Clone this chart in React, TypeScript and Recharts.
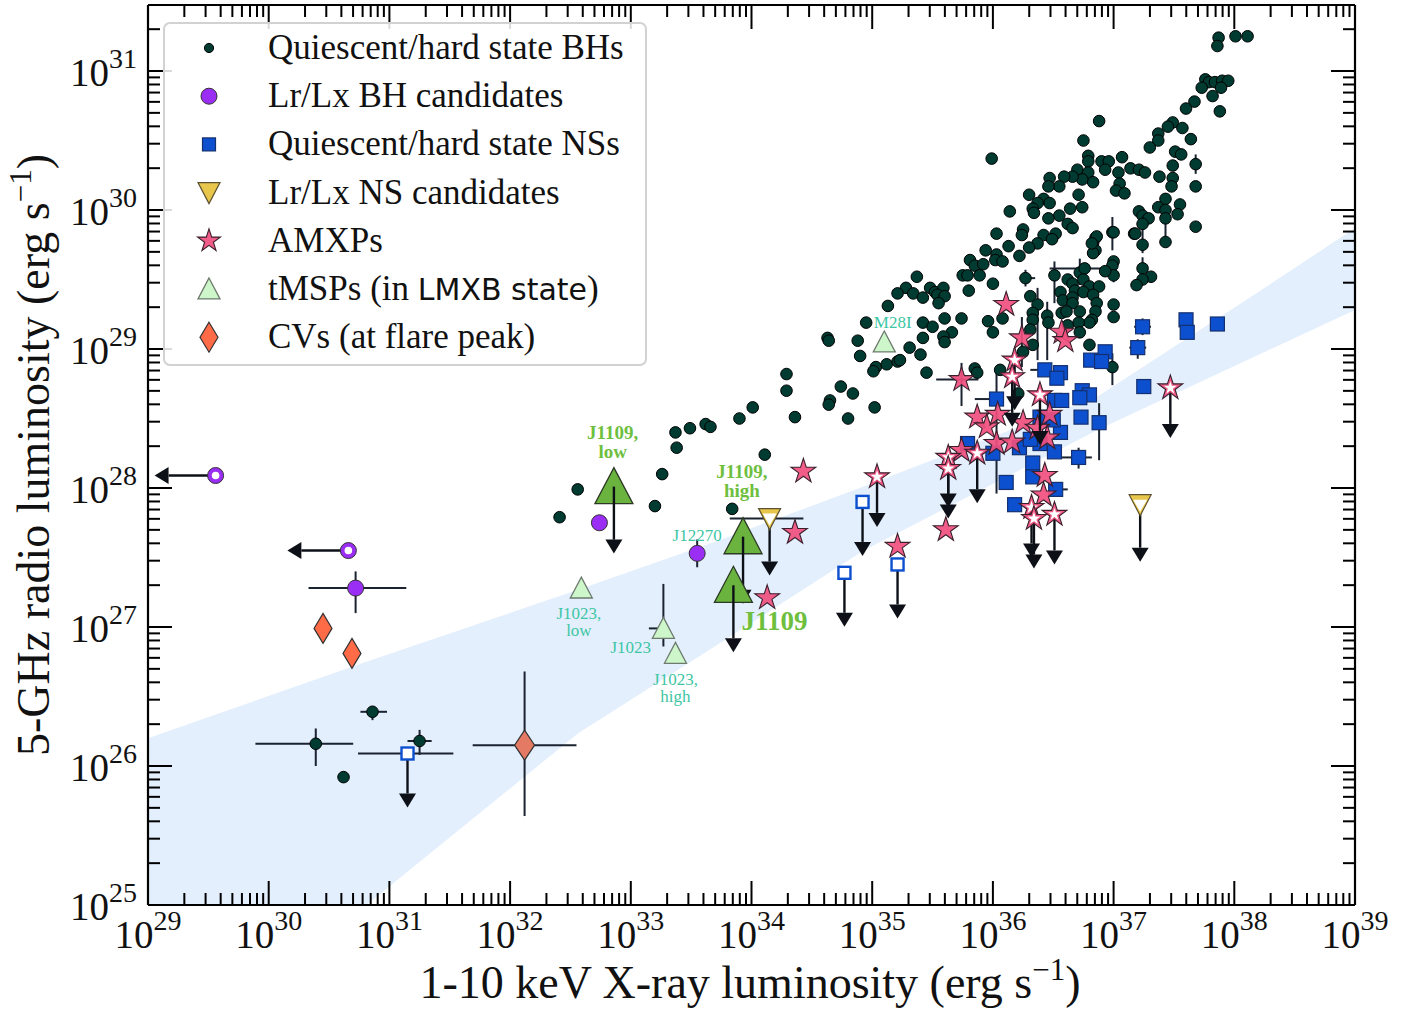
import React from "react";
import { ComposedChart, Area, Scatter, XAxis, YAxis, ErrorBar, Legend } from "recharts";

const SERIF = "'Liberation Serif', 'Times New Roman', serif";
const SANS = "'DejaVu Sans', 'Liberation Sans', sans-serif";

// all values are log10 luminosities (erg/s): [logLx, logLr, xErr-, xErr+, yErr-, yErr+]
const bhRows: number[][] = [
  [37.87, 31.24], [37.86, 31.18], [38.01, 31.25], [38.11, 31.25],
  [37.76, 30.94], [37.79, 30.92], [37.84, 30.92], [37.9, 30.93], [37.95, 30.93], [37.73, 30.88], [37.82, 30.82], [37.89, 30.88], [37.67, 30.78], [37.6, 30.73], [37.88, 30.71],
  [36.88, 30.64], [36.75, 30.5], [35.99, 30.37],
  [37.49, 30.63], [37.45, 30.6], [37.57, 30.59], [37.37, 30.55], [37.37, 30.5], [37.3, 30.45], [37.64, 30.51],
  [37.51, 30.42], [37.56, 30.4], [37.68, 30.33, 0, 0, 0.07, 0.07], [37.68, 30.17], [37.49, 30.32], [37.49, 30.23], [37.48, 30.17], [37.38, 30.24], [37.43, 30.08], [37.37, 30.02], [37.43, 30.0], [37.55, 30.04], [37.53, 29.97], [37.43, 29.94], [37.68, 29.88], [37.43, 29.77, 0, 0, 0, 0.17],
  [37.21, 29.99], [37.24, 29.96], [37.29, 29.94], [37.24, 29.9], [37.17, 29.83], [37.24, 29.75, 0, 0, 0.06, 0.2], [37.24, 29.58, 0, 0, 0.08, 0.08], [37.31, 29.52], [37.24, 29.5], [37.19, 29.46],
  [36.79, 30.39], [36.79, 30.35], [36.9, 30.35], [36.96, 30.35], [37.07, 30.38], [36.93, 30.29], [37.14, 30.3], [37.21, 30.29], [37.26, 30.27], [37.04, 30.27], [37.05, 30.19], [37.02, 30.14], [37.09, 30.12],
  [36.7, 30.29], [36.79, 30.27], [36.83, 30.2], [36.74, 30.22], [36.66, 30.24], [36.59, 30.24], [36.55, 30.17], [36.47, 30.23], [36.46, 30.17], [36.71, 30.11], [36.3, 30.11], [36.42, 30.08], [36.37, 30.05], [36.47, 30.05], [36.33, 30.01], [36.34, 29.98], [36.14, 29.99], [36.64, 30.01], [36.74, 30.02], [36.55, 29.96], [36.46, 29.94], [36.62, 29.9], [36.66, 29.87],
  [36.99, 29.84, 0, 0, 0.13, 0.11], [36.03, 29.83], [36.25, 29.86], [36.24, 29.82], [36.42, 29.82], [36.52, 29.83], [36.49, 29.79], [36.37, 29.76], [36.3, 29.73], [36.13, 29.74], [35.94, 29.71], [36.22, 29.67], [36.03, 29.68], [36.02, 29.64], [36.08, 29.63],
  [36.85, 29.8], [36.83, 29.76], [36.85, 29.71], [36.83, 29.69],
  [35.81, 29.64], [35.85, 29.6], [35.92, 29.61], [35.75, 29.53], [35.79, 29.53], [35.89, 29.53], [36.0, 29.47], [35.8, 29.42],
  [35.37, 29.52], [35.28, 29.44], [35.34, 29.4], [35.42, 29.37], [35.48, 29.44], [35.52, 29.41], [35.59, 29.44], [35.54, 29.39], [35.6, 29.38], [35.55, 29.33], [35.74, 29.22], [35.6, 29.22], [35.42, 29.19], [35.5, 29.16], [35.66, 29.12], [35.42, 29.08], [35.59, 29.09], [35.6, 29.05], [35.31, 29.01], [35.4, 28.96],
  [36.27, 29.51, 0.04, 0.08, 0.06, 0.06], [36.31, 29.38], [36.37, 29.32, 0, 0, 0.4, 0.12], [36.33, 29.26], [36.33, 29.21], [36.45, 29.24, 0, 0, 0.32, 0.1], [36.46, 29.19], [35.96, 29.2], [36.0, 29.12], [36.08, 29.22],
  [36.51, 29.53, 0, 0, 0.2, 0.1], [36.62, 29.5], [36.66, 29.47], [36.72, 29.55, 0, 0, 0.09, 0.1], [36.76, 29.58, 0.29, 0.14, 0, 0], [36.75, 29.5], [36.8, 29.45], [36.88, 29.45], [36.68, 29.42], [36.75, 29.41], [36.83, 29.39], [36.56, 29.41], [36.58, 29.35], [36.66, 29.37], [36.66, 29.33], [36.86, 29.33], [36.85, 29.27], [36.57, 29.26], [36.61, 29.27], [36.72, 29.27], [36.82, 29.21], [36.8, 29.19], [36.71, 29.19],
  [37.0, 29.63], [36.99, 29.6], [37.0, 29.53, 0, 0, 0.05, 0.13], [36.93, 29.56], [37.0, 29.32], [37.0, 29.23], [36.8, 29.03], [36.72, 29.12], [36.62, 29.17],
  [36.86, 29.81], [36.82, 29.76], [37.0, 29.84], [37.18, 29.83],
  [35.85, 28.86], [35.87, 28.83], [36.06, 28.85], [36.21, 28.68], [36.25, 28.98], [36.33, 29.03], [36.31, 29.14], [36.99, 28.87, 0, 0, 0.13, 0.1],
  [35.21, 29.4], [35.13, 29.31], [34.95, 29.19], [34.63, 29.08], [34.64, 29.06], [34.88, 29.06], [34.9, 28.95], [35.03, 28.87], [35.01, 28.84], [35.12, 28.89], [35.21, 28.91], [35.23, 28.92], [35.45, 28.83],
  [34.29, 28.82], [34.29, 28.7], [34.74, 28.73], [34.84, 28.68], [34.65, 28.63], [34.64, 28.6], [35.02, 28.58], [34.8, 28.5], [34.36, 28.51],
  [34.01, 28.58], [33.9, 28.5], [33.62, 28.46], [33.66, 28.44], [33.49, 28.43], [33.37, 28.4], [33.38, 28.29], [34.11, 28.24], [33.26, 28.1], [33.2, 27.87], [33.84, 27.85], [32.56, 27.99], [32.41, 27.79],
  [30.39, 26.16, 0.5, 0.31, 0.16, 0.11], [30.62, 25.92], [30.86, 26.39, 0.1, 0.12, 0.06, 0.04], [31.25, 26.18, 0.1, 0.1, 0.1, 0.08],
];

const bhCandRows: number[][] = [[32.74, 27.75], [33.55, 27.53, 0, 0, 0.1, 0.1], [30.72, 27.28, 0.39, 0.42, 0.18, 0.12]];
const bhCandLimitRows: number[][] = [[29.56, 28.09], [30.66, 27.55]];

const nsRows: number[][] = [
  [37.6, 29.21], [37.61, 29.12], [37.86, 29.18], [37.24, 29.16, 0.07, 0.07, 0.06, 0.06], [37.2, 29.01, 0.07, 0.07, 0.08, 0.06], [37.25, 28.73],
  [36.93, 28.98], [36.81, 28.92], [36.9, 28.91], [36.43, 28.85, 0.12, 0, 0, 0], [36.56, 28.83], [36.53, 28.79], [36.74, 28.7], [36.8, 28.67], [36.72, 28.65],
  [36.51, 28.63], [36.57, 28.63], [36.73, 28.51], [36.88, 28.47, 0, 0, 0.27, 0.14], [36.56, 28.4], [36.51, 28.26], [36.71, 28.22, 0.15, 0.11, 0.08, 0.07],
  [36.33, 28.18], [36.33, 28.08], [36.52, 27.99, 0, 0.1, 0, 0], [36.03, 28.64, 0.18, 0.05, 0.68, 0.19], [35.79, 28.32], [36.0, 28.25], [36.22, 28.29],
  [36.39, 28.32], [36.39, 28.51], [36.11, 28.04], [36.18, 27.88], [36.31, 28.35], [36.5, 28.49],
];
const nsLimitRows: number[][] = [[31.15, 26.09, 0.41, 0.38], [34.92, 27.9], [34.77, 27.39], [35.21, 27.45]];
const nsCandRows: number[][] = [[34.15, 27.78, 0.33, 0.28], [37.22, 27.88]];

const amxpRows: number[][] = [
  [34.43, 28.12], [34.36, 27.68], [34.13, 27.21], [35.21, 27.58], [36.11, 29.32], [36.24, 29.08, 0, 0, 0.21, 0.15], [35.74, 28.78, 0.21, 0.14, 0.19, 0.12],
  [35.87, 28.51], [35.95, 28.44], [36.04, 28.53], [36.25, 28.47], [36.37, 28.43], [36.47, 28.53], [36.45, 28.36], [36.03, 28.32], [36.16, 28.33],
  [35.74, 28.27], [36.57, 29.12], [36.6, 29.06], [36.43, 28.09], [36.42, 27.95], [35.61, 27.7],
];
const amxpLimitRows: number[][] = [
  [35.04, 28.08], [36.18, 28.92], [36.16, 28.8], [36.39, 28.67], [35.87, 28.25], [35.63, 28.22], [35.63, 28.14], [36.32, 27.86], [36.34, 27.78], [36.51, 27.81], [37.47, 28.72],
];

const tmspRows: number[][] = [[32.59, 27.28], [33.27, 26.99, 0.12, 0, 0.13, 0.32], [33.37, 26.81], [35.1, 29.05]];
const j1109Rows: number[][] = [[32.86, 28.01], [33.93, 27.65], [33.85, 27.3]];

const cvRows: number[][] = [[30.45, 26.99], [30.69, 26.81]];
const cvErrRows: number[][] = [[32.12, 26.15, 0.43, 0.43, 0.51, 0.53]];

// shaded band (edges)
const bandLx = [29, 30.81, 32.57, 33.75, 34.93, 36.87, 38.13, 39];
const bandLow = [25, 25, 26.24, 26.89, 27.55, 28.42, 28.93, 29.28];
const bandHigh = [26.2, 26.75, 27.27, 27.63, 28.01, 28.66, 29.37, 29.87];

const annotations = [
  { lines: ["J1109,", "low"], x: 32.85, y: 28.35, kind: "green" },
  { lines: ["J1109,", "high"], x: 33.92, y: 28.07, kind: "green" },
  { lines: ["J1109"], x: 34.19, y: 26.98, kind: "greenBig" },
  { lines: ["J12270"], x: 33.55, y: 27.62, kind: "teal" },
  { lines: ["J1023,", "low"], x: 32.57, y: 27.06, kind: "teal" },
  { lines: ["J1023"], x: 33.0, y: 26.81, kind: "teal" },
  { lines: ["J1023,", "high"], x: 33.37, y: 26.58, kind: "teal" },
  { lines: ["M28I"], x: 35.17, y: 29.15, kind: "teal" },
];

const legendNames = [
  "Quiescent/hard state BHs",
  "Lr/Lx BH candidates",
  "Quiescent/hard state NSs",
  "Lr/Lx NS candidates",
  "AMXPs",
  "tMSPs (in LMXB state)",
  "CVs (at flare peak)",
];

const X_DOMAIN = [29, 39];
const Y_DOMAIN = [25, 31.475];
const xMajor = [29, 30, 31, 32, 33, 34, 35, 36, 37, 38, 39];
const yMajor = [25, 26, 27, 28, 29, 30, 31];

function logTicks(majors: number[], top: number) {
  const out: number[] = [];
  majors.forEach((d) => {
    out.push(d);
    for (let k = 2; k <= 9; k++) {
      const v = d + Math.log10(k);
      if (v < top) out.push(v);
    }
  });
  return out;
}
const xTicks = logTicks(xMajor, 39);
const yTicks = logTicks(yMajor, Y_DOMAIN[1]);

const toPoints = (rows: number[][]) =>
  rows.map((r) => ({
    x: r[0],
    y: r[1],
    ex: r.length > 2 ? [r[2], r[3]] : undefined,
    ey: r.length > 4 ? [r[4], r[5]] : undefined,
  }));

const bandData = bandLx.map((x, i) => ({ x, band: [bandLow[i], bandHigh[i]] }));

// ---------- marker shapes ----------
const C = {
  bh: "#003b32",
  ns: "#0c4fcf",
  nsEdge: "#14306e",
  yellow: "#e8c64c",
  purple: "#9b2ef5",
  cv: "#ff6b47",
  star: "#f04f7e",
  tmsp: "#cdf6ca",
  j1109: "#6bb33f",
  arrow: "#0d1117",
  err: "#1b2230",
};

function starPts(cx: number, cy: number, R: number) {
  const pts: string[] = [];
  for (let i = 0; i < 10; i++) {
    const r = i % 2 === 0 ? R : R * 0.382;
    const a = -Math.PI / 2 + (i * Math.PI) / 5;
    pts.push(`${(cx + r * Math.cos(a)).toFixed(2)},${(cy + r * Math.sin(a)).toFixed(2)}`);
  }
  return pts.join(" ");
}

function DownArrow({ cx, cy, len }: { cx: number; cy: number; len: number }) {
  const head = 14;
  return (
    <g>
      <line x1={cx} y1={cy} x2={cx} y2={cy + len - head} stroke={C.arrow} strokeWidth={2.4} />
      <polygon points={`${cx - 8.5},${cy + len - head} ${cx + 8.5},${cy + len - head} ${cx},${cy + len}`} fill={C.arrow} />
    </g>
  );
}

function LeftArrow({ cx, cy, len }: { cx: number; cy: number; len: number }) {
  const head = 14;
  return (
    <g>
      <line x1={cx} y1={cy} x2={cx - len + head} y2={cy} stroke={C.arrow} strokeWidth={2.4} />
      <polygon points={`${cx - len + head},${cy - 8.5} ${cx - len + head},${cy + 8.5} ${cx - len},${cy}`} fill={C.arrow} />
    </g>
  );
}

const Dot = (cx: number, cy: number, r = 5.8) => <circle cx={cx} cy={cy} r={r} fill={C.bh} stroke="#000" strokeWidth={1} />;
const Square = (cx: number, cy: number, s = 14) => (
  <rect x={cx - s / 2} y={cy - s / 2} width={s} height={s} fill={C.ns} stroke={C.nsEdge} strokeWidth={1.2} />
);
const OpenSquare = (cx: number, cy: number) => (
  <rect x={cx - 6} y={cy - 6} width={12} height={12} fill="#fff" stroke={C.ns} strokeWidth={2.4} />
);
const YellowTri = (cx: number, cy: number, filled: boolean) => (
  <g>
    <polygon points={`${cx - 11},${cy - 10} ${cx + 11},${cy - 10} ${cx},${cy + 11}`} fill={C.yellow} stroke="#5c5230" strokeWidth={1.2} />
    {!filled && <polygon points={`${cx - 7},${cy - 5} ${cx + 7},${cy - 5} ${cx},${cy + 7}`} fill="#fff" />}
  </g>
);
const PurpleDot = (cx: number, cy: number, open: boolean) => (
  <g>
    <circle cx={cx} cy={cy} r={8} fill={C.purple} stroke="#333" strokeWidth={1} />
    {open && <circle cx={cx} cy={cy} r={3.8} fill="#fff" />}
  </g>
);
const Diamond = (cx: number, cy: number, w: number, h: number, fill: string) => (
  <polygon points={`${cx},${cy - h} ${cx + w},${cy} ${cx},${cy + h} ${cx - w},${cy}`} fill={fill} stroke="#333" strokeWidth={1.2} />
);
const Star = (cx: number, cy: number, open: boolean, R = 13) => (
  <g>
    <polygon points={starPts(cx, cy, R)} fill={C.star} fillOpacity={0.92} stroke="#3a1f2c" strokeWidth={1.1} />
    {open && <polygon points={starPts(cx, cy, R * 0.52)} fill="#fff" />}
  </g>
);
const UpTri = (cx: number, cy: number, s: number, fill: string, edge: string) => (
  <polygon points={`${cx},${cy - s} ${cx + s},${cy + s * 0.9} ${cx - s},${cy + s * 0.9}`} fill={fill} stroke={edge} strokeWidth={1.3} />
);

// ---------- axis ticks ----------
const isMajor = (v: number) => Math.abs(v - Math.round(v)) < 1e-6;

const TickText = ({ x, y, v, anchor }: { x: number; y: number; v: number; anchor: string }) => (
  <text x={x} y={y} textAnchor={anchor as any} fontFamily={SERIF} fontSize={39} fill="#111">
    10
    <tspan dy={-18} fontSize={28}>
      {Math.round(v)}
    </tspan>
  </text>
);

const BottomTick = (p: any) => {
  const v = p.payload.value;
  const m = isMajor(v);
  return (
    <g>
      <line x1={p.x} y1={p.y} x2={p.x} y2={p.y - (m ? 24 : 12)} stroke="#000" strokeWidth={2} />
      {m && <TickText x={p.x} y={p.y + 43} v={v} anchor="middle" />}
    </g>
  );
};
const TopTick = (p: any) => {
  const m = isMajor(p.payload.value);
  return <line x1={p.x} y1={p.y} x2={p.x} y2={p.y + (m ? 24 : 12)} stroke="#000" strokeWidth={2} />;
};
const LeftTick = (p: any) => {
  const v = p.payload.value;
  const m = isMajor(v);
  return (
    <g>
      <line x1={p.x} y1={p.y} x2={p.x + (m ? 24 : 12)} y2={p.y} stroke="#000" strokeWidth={2} />
      {m && <TickText x={p.x - 11} y={p.y + 15} v={v} anchor="end" />}
    </g>
  );
};
const RightTick = (p: any) => {
  const m = isMajor(p.payload.value);
  return <line x1={p.x} y1={p.y} x2={p.x - (m ? 24 : 12)} y2={p.y} stroke="#000" strokeWidth={2} />;
};

// ---------- legend ----------
const legendMarkers = [
  (cx: number, cy: number) => Dot(cx, cy, 4.6),
  (cx: number, cy: number) => PurpleDot(cx, cy, false),
  (cx: number, cy: number) => Square(cx, cy, 13),
  (cx: number, cy: number) => YellowTri(cx, cy, true),
  (cx: number, cy: number) => Star(cx, cy, false, 12),
  (cx: number, cy: number) => UpTri(cx, cy, 11, C.tmsp, "#6d7a6d"),
  (cx: number, cy: number) => Diamond(cx, cy, 9, 15, C.cv),
];

function LegendBox() {
  return (
    <div
      style={{
        width: 484,
        height: 344,
        boxSizing: "border-box",
        border: "2px solid #d2d2d2",
        borderRadius: 7,
        background: "rgba(255,255,255,0.85)",
      }}
    >
      <svg width={480} height={340}>
        {legendNames.map((name, i) => {
          const cy = 24 + i * 48.2;
          return (
            <g key={name}>
              {legendMarkers[i](44, cy)}
              <text x={103} y={cy + 11} fontFamily={SERIF} fontSize={35} fill="#111">
                {name === "tMSPs (in LMXB state)" ? (
                  <>
                    tMSPs (in <tspan fontFamily={SANS} fontSize={30}>LMXB state</tspan>)
                  </>
                ) : (
                  name
                )}
              </text>
            </g>
          );
        })}
      </svg>
    </div>
  );
}

const annStyle: Record<string, { color: string; size: number; weight: string; gap: number }> = {
  green: { color: "#6fbf3f", size: 19, weight: "bold", gap: 19 },
  greenBig: { color: "#6fbf3f", size: 27, weight: "bold", gap: 0 },
  teal: { color: "#3ec6a4", size: 17, weight: "normal", gap: 17 },
};

const axisStyle = { stroke: "#000", strokeWidth: 2.2 };

export default function App() {
  const bh = toPoints(bhRows);
  const ns = toPoints(nsRows);
  const nsLim = toPoints(nsLimitRows);
  const nsCand = toPoints(nsCandRows);
  const bhCand = toPoints(bhCandRows);
  const bhCandLim = toPoints(bhCandLimitRows);
  const cv = toPoints(cvRows);
  const cvErr = toPoints(cvErrRows);
  const amxp = toPoints(amxpRows);
  const amxpLim = toPoints(amxpLimitRows);
  const tmsp = toPoints(tmspRows);
  const j1109 = toPoints(j1109Rows);
  const ann = annotations.map((a) => ({ ...a }));

  const eb = (dir: "x" | "y") => (
    <ErrorBar dataKey={dir === "x" ? "ex" : "ey"} direction={dir} width={0} stroke={C.err} strokeWidth={2} isAnimationActive={false} />
  );

  return (
    <div style={{ position: "absolute", left: 0, top: 0, width: 1419, height: 1012, background: "#fff" }}>
      <ComposedChart width={1419} height={1012} data={bandData} margin={{ top: 4, right: 63, bottom: 106, left: 147 }}>
        <XAxis
          dataKey="x" type="number" domain={X_DOMAIN} allowDataOverflow ticks={xTicks} interval={0}
          height={1} tickSize={0} tickMargin={0} tickLine={false} axisLine={axisStyle} tick={BottomTick}
        />
        <XAxis
          xAxisId="top" orientation="top" dataKey="x" type="number" domain={X_DOMAIN} allowDataOverflow ticks={xTicks} interval={0}
          height={1} tickSize={0} tickMargin={0} tickLine={false} axisLine={axisStyle} tick={TopTick}
        />
        <YAxis
          dataKey="y" type="number" domain={Y_DOMAIN} allowDataOverflow ticks={yTicks} interval={0}
          width={1} tickSize={0} tickMargin={0} tickLine={false} axisLine={axisStyle} tick={LeftTick}
        />
        <YAxis
          yAxisId="right" orientation="right" dataKey="y" type="number" domain={Y_DOMAIN} allowDataOverflow ticks={yTicks} interval={0}
          width={1} tickSize={0} tickMargin={0} tickLine={false} axisLine={axisStyle} tick={RightTick}
        />

        <Area dataKey="band" type="linear" fill="#e3effd" fillOpacity={1} stroke="none" isAnimationActive={false} />

        <Scatter data={bh} isAnimationActive={false} shape={(p: any) => Dot(p.cx, p.cy)}>
          {eb("x")}
          {eb("y")}
        </Scatter>
        <Scatter data={ns} isAnimationActive={false} shape={(p: any) => Square(p.cx, p.cy)}>
          {eb("x")}
          {eb("y")}
        </Scatter>
        <Scatter
          data={nsLim}
          isAnimationActive={false}
          shape={(p: any) => (
            <g>
              <DownArrow cx={p.cx} cy={p.cy} len={54} />
              {OpenSquare(p.cx, p.cy)}
            </g>
          )}
        >
          {eb("x")}
        </Scatter>
        <Scatter
          data={nsCand}
          isAnimationActive={false}
          shape={(p: any) => (
            <g>
              <DownArrow cx={p.cx} cy={p.cy} len={57} />
              {YellowTri(p.cx, p.cy, false)}
            </g>
          )}
        >
          {eb("x")}
        </Scatter>
        <Scatter data={bhCand} isAnimationActive={false} shape={(p: any) => PurpleDot(p.cx, p.cy, false)}>
          {eb("x")}
          {eb("y")}
        </Scatter>
        <Scatter
          data={bhCandLim}
          isAnimationActive={false}
          shape={(p: any) => (
            <g>
              <LeftArrow cx={p.cx} cy={p.cy} len={61} />
              {PurpleDot(p.cx, p.cy, true)}
            </g>
          )}
        />
        <Scatter data={cv} isAnimationActive={false} shape={(p: any) => Diamond(p.cx, p.cy, 9, 15, C.cv)} />
        <Scatter data={cvErr} isAnimationActive={false} shape={(p: any) => Diamond(p.cx, p.cy, 10, 15, "#e57a64")}>
          {eb("x")}
          {eb("y")}
        </Scatter>
        <Scatter data={amxp} isAnimationActive={false} shape={(p: any) => Star(p.cx, p.cy, false)}>
          {eb("x")}
          {eb("y")}
        </Scatter>
        <Scatter
          data={amxpLim}
          isAnimationActive={false}
          shape={(p: any) => (
            <g>
              <DownArrow cx={p.cx} cy={p.cy} len={50} />
              {Star(p.cx, p.cy, true)}
            </g>
          )}
        />
        <Scatter data={tmsp} isAnimationActive={false} shape={(p: any) => UpTri(p.cx, p.cy, 11, C.tmsp, "#6d7a6d")}>
          {eb("x")}
          {eb("y")}
        </Scatter>
        <Scatter
          data={j1109}
          isAnimationActive={false}
          shape={(p: any) => (
            <g>
              {UpTri(p.cx, p.cy, 19, C.j1109, "#2c3a25")}
              <DownArrow cx={p.cx} cy={p.cy} len={67} />
            </g>
          )}
        />
        <Scatter
          data={ann}
          isAnimationActive={false}
          shape={(p: any) => {
            const s = annStyle[p.payload.kind];
            return (
              <text textAnchor="middle" fontFamily={SERIF} fontSize={s.size} fontWeight={s.weight} fill={s.color}>
                {p.payload.lines.map((l: string, i: number) => (
                  <tspan key={i} x={p.cx} y={p.cy + i * s.gap}>
                    {l}
                  </tspan>
                ))}
              </text>
            );
          }}
        />

        <Legend
          layout="vertical"
          align="center"
          verticalAlign="middle"
          wrapperStyle={{ left: 163, top: 22, width: 484, height: 344 }}
          content={() => <LegendBox />}
        />
      </ComposedChart>

      <svg width={1419} height={1012} style={{ position: "absolute", left: 0, top: 0, pointerEvents: "none" }}>
        <text x={750} y={998} textAnchor="middle" fontFamily={SERIF} fontSize={46} fill="#111">
          1-10 keV X-ray luminosity (erg s<tspan dy={-18} fontSize={31}>−1</tspan>
          <tspan dy={18}>)</tspan>
        </text>
        <text
          x={49}
          y={455}
          textAnchor="middle"
          fontFamily={SERIF}
          fontSize={46}
          fill="#111"
          transform="rotate(-90 49 455)"
        >
          5-GHz radio luminosity (erg s<tspan dy={-18} fontSize={31}>−1</tspan>
          <tspan dy={18}>)</tspan>
        </text>
      </svg>
    </div>
  );
}
